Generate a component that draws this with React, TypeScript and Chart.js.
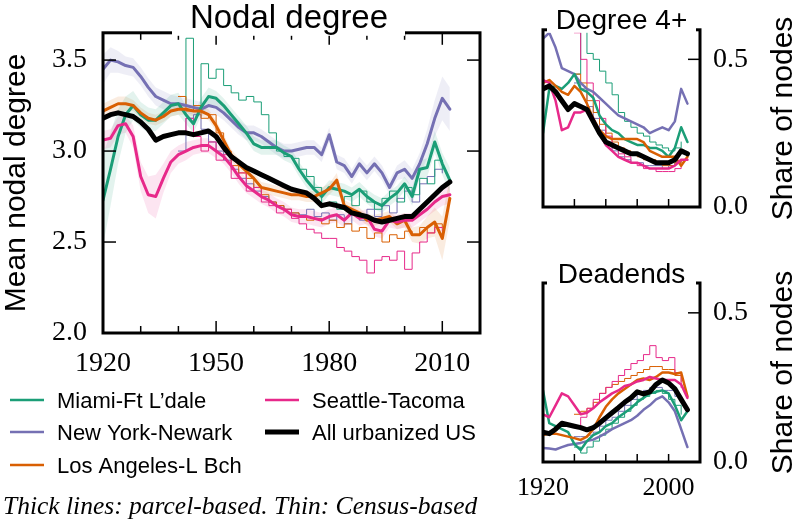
import React, { useEffect, useRef } from "react";
import { Chart, registerables } from "chart.js";
Chart.register(...registerables);

const MIAMI = "#1b9e77";
const NY = "#7570b3";
const LA = "#d95f02";
const SEATTLE = "#e7298a";
const ALLUS = "#000000";

const SERIF = "'Liberation Serif', 'Times New Roman', serif";
const SANS = "'Liberation Sans', Arial, sans-serif";

// ---------- Main panel: mean nodal degree ----------
const years = [
  1920, 1922, 1924, 1926, 1928, 1930, 1932, 1934, 1936, 1938,
  1940, 1942, 1944, 1946, 1948, 1950, 1952, 1954, 1956, 1958,
  1960, 1962, 1964, 1966, 1968, 1970, 1972, 1974, 1976, 1978,
  1980, 1982, 1984, 1986, 1988, 1990, 1992, 1994, 1996, 1998,
  2000, 2002, 2004, 2006, 2008, 2010, 2012,
];
const allUS = [
  3.18, 3.20, 3.21, 3.20, 3.19, 3.16, 3.12, 3.06, 3.08, 3.09,
  3.10, 3.10, 3.09, 3.10, 3.11, 3.08, 3.02, 2.97, 2.94, 2.91,
  2.89, 2.87, 2.85, 2.83, 2.81, 2.79, 2.78, 2.77, 2.74, 2.70,
  2.71, 2.70, 2.69, 2.66, 2.65, 2.64, 2.62, 2.61, 2.62, 2.63,
  2.64, 2.64, 2.68, 2.72, 2.76, 2.80, 2.83,
];
const nyParcel = [
  3.45, 3.50, 3.49, 3.47, 3.46, 3.41, 3.35, 3.30, 3.28, 3.26,
  3.26, 3.25, 3.24, 3.23, 3.25, 3.24, 3.21, 3.17, 3.13, 3.10,
  3.10, 3.08, 3.05, 3.02, 3.00, 3.00, 3.01, 3.02, 3.02, 2.98,
  3.09, 2.94, 2.92, 2.86, 2.93, 2.88, 2.93, 2.88, 2.80, 2.88,
  2.90, 2.85, 2.93, 3.04, 3.18, 3.29, 3.23,
];
const miamiParcel = [
  2.73, 2.90, 3.08, 3.20, 3.25, 3.20, 3.17, 3.17, 3.21, 3.25,
  3.26, 3.20, 3.15, 3.24, 3.30, 3.29, 3.25, 3.20, 3.15, 3.10,
  3.04, 3.02, 3.02, 3.02, 2.99, 2.97, 2.90, 2.84, 2.79, 2.75,
  2.80, 2.79, 2.78, 2.76, 2.79, 2.75, 2.72, 2.70, 2.74, 2.77,
  2.82, 2.75, 2.90, 2.91, 3.05, 2.93, 2.84,
];
const laParcel = [
  3.22, 3.24, 3.26, 3.26, 3.25, 3.21, 3.18, 3.17, 3.19, 3.22,
  3.23, 3.23, 3.22, 3.22, 3.20, 3.14, 3.06, 2.98, 2.93, 2.89,
  2.85, 2.80, 2.79, 2.78, 2.77, 2.76, 2.76, 2.75, 2.75, 2.77,
  2.79, 2.84, 2.70, 2.68, 2.66, 2.62, 2.62, 2.63, 2.64, 2.60,
  2.62, 2.54, 2.54, 2.58, 2.61, 2.52, 2.74,
];
const seattleParcel = [
  3.06, 3.07, 3.14, 3.15, 3.08, 2.86, 2.76, 2.75, 2.85, 2.94,
  2.98, 3.00, 3.02, 3.03, 3.03, 3.00, 2.97, 2.92, 2.86, 2.81,
  2.78, 2.75, 2.73, 2.70, 2.68, 2.65, 2.64, 2.64, 2.63, 2.62,
  2.64, 2.65, 2.62, 2.66, 2.63, 2.64, 2.57, 2.56, 2.62, 2.61,
  2.62, 2.62, 2.65, 2.68, 2.72, 2.75, 2.76,
];
// half-widths of the shaded uncertainty bands
const miamiBand = [
  0.25, 0.20, 0.15, 0.10, 0.08, 0.07, 0.07, 0.06, 0.06, 0.06,
  0.06, 0.05, 0.05, 0.05, 0.05, 0.04, 0.04, 0.04, 0.04, 0.04,
  0.04, 0.04, 0.04, 0.04, 0.04, 0.04, 0.04, 0.04, 0.04, 0.04,
  0.04, 0.04, 0.04, 0.04, 0.04, 0.04, 0.04, 0.04, 0.04, 0.04,
  0.04, 0.05, 0.05, 0.05, 0.06, 0.06, 0.07,
];
const nyBand = [
  0.08, 0.07, 0.06, 0.05, 0.05, 0.05, 0.05, 0.05, 0.05, 0.05,
  0.04, 0.04, 0.04, 0.04, 0.04, 0.04, 0.04, 0.04, 0.04, 0.04,
  0.04, 0.04, 0.04, 0.04, 0.04, 0.04, 0.04, 0.04, 0.04, 0.04,
  0.04, 0.04, 0.04, 0.04, 0.04, 0.04, 0.04, 0.04, 0.04, 0.04,
  0.05, 0.05, 0.06, 0.08, 0.10, 0.12, 0.12,
];
const laBand = [
  0.04, 0.04, 0.04, 0.04, 0.03, 0.03, 0.03, 0.03, 0.03, 0.03,
  0.03, 0.03, 0.03, 0.03, 0.03, 0.03, 0.03, 0.03, 0.03, 0.03,
  0.03, 0.03, 0.03, 0.03, 0.03, 0.03, 0.03, 0.03, 0.03, 0.03,
  0.03, 0.04, 0.03, 0.03, 0.03, 0.03, 0.03, 0.03, 0.03, 0.03,
  0.04, 0.04, 0.05, 0.06, 0.08, 0.12, 0.12,
];
const seattleBand = [
  0.05, 0.05, 0.05, 0.05, 0.06, 0.08, 0.10, 0.12, 0.08, 0.06,
  0.05, 0.05, 0.04, 0.04, 0.04, 0.04, 0.04, 0.04, 0.04, 0.04,
  0.04, 0.04, 0.04, 0.04, 0.04, 0.04, 0.04, 0.04, 0.04, 0.04,
  0.04, 0.04, 0.04, 0.04, 0.04, 0.04, 0.04, 0.04, 0.04, 0.04,
  0.04, 0.04, 0.04, 0.04, 0.05, 0.05, 0.05,
];

const censusYears = [
  1940, 1942, 1944, 1946, 1948, 1950, 1952, 1954, 1956, 1958,
  1960, 1962, 1964, 1966, 1968, 1970, 1972, 1974, 1976, 1978,
  1980, 1982, 1984, 1986, 1988, 1990, 1992, 1994, 1996, 1998,
  2000, 2002, 2004, 2006, 2008, 2010,
];
const miamiCensus = [
  3.25, 3.62, 3.22, 3.48, 3.40, 3.45, 3.36, 3.32, 3.28, 3.30,
  3.27, 3.20, 3.10, 3.00, 2.97, 2.96, 2.90, 2.86, 2.80, 2.70,
  2.72, 2.68, 2.75, 2.70, 2.78, 2.72, 2.68, 2.74, 2.78, 2.72,
  2.80, 2.76, 2.85, 2.82, 2.95, 2.90,
];
const seattleCensus = [
  3.10, 3.18, 3.08, 3.00, 3.05, 2.95, 2.98, 2.85, 2.88, 2.78,
  2.80, 2.72, 2.70, 2.66, 2.68, 2.63, 2.60, 2.57, 2.55, 2.52,
  2.52, 2.47, 2.45, 2.42, 2.40, 2.33, 2.40, 2.42, 2.40, 2.45,
  2.35, 2.44, 2.50, 2.55, 2.58, 2.56,
];
const laCensus = [
  3.30, 3.22, 3.25, 3.18, 3.20, 3.10, 3.00, 2.92, 2.88, 2.85,
  2.80, 2.76, 2.72, 2.70, 2.68, 2.66, 2.64, 2.62, 2.63, 2.60,
  2.62, 2.58, 2.60, 2.56, 2.58, 2.52, 2.55, 2.50, 2.54, 2.52,
  2.56, 2.54, 2.58, 2.55, 2.60, 2.58,
];
const nyCensus = [
  3.00, 3.18, 3.20, 3.12, 3.05, 3.00, 2.95, 2.90, 2.85, 2.82,
  2.78, 2.75, 2.72, 2.70, 2.68, 2.66, 2.65, 2.68, 2.64, 2.66,
  2.62, 2.65, 2.60, 2.66, 2.62, 2.68, 2.64, 2.70, 2.66, 2.74,
  2.78, 2.72, 2.82, 2.86, 2.90, 2.88,
];

const mainXTicks = [1920, 1930, 1940, 1950, 1960, 1970, 1980, 1990, 2000, 2010, 2020];
const mainXLabels = [1920, 1950, 1980, 2010];
const mainYTicks = [2.0, 2.5, 3.0, 3.5];

// ---------- Small panels: share of nodes ----------
const years4 = [
  1920, 1924, 1928, 1932, 1936, 1940, 1944, 1948, 1952, 1956, 1960, 1964,
  1968, 1972, 1976, 1980, 1984, 1988, 1992, 1996, 2000, 2004, 2008, 2012,
];
const census4 = [
  1940, 1944, 1948, 1952, 1956, 1960, 1964, 1968, 1972,
  1976, 1980, 1984, 1988, 1992, 1996, 2000, 2004, 2008,
];

const deg4AllUS = [0.40, 0.41, 0.39, 0.36, 0.33, 0.35, 0.34, 0.33, 0.29, 0.25, 0.22, 0.21, 0.20, 0.19, 0.18, 0.18, 0.17, 0.16, 0.15, 0.15, 0.15, 0.16, 0.19, 0.18];
const deg4NY = [0.57, 0.59, 0.54, 0.47, 0.46, 0.45, 0.42, 0.40, 0.39, 0.37, 0.35, 0.33, 0.31, 0.30, 0.29, 0.28, 0.27, 0.25, 0.26, 0.27, 0.26, 0.29, 0.40, 0.35];
const deg4Miami = [0.25, 0.40, 0.41, 0.40, 0.42, 0.45, 0.40, 0.39, 0.37, 0.31, 0.28, 0.26, 0.25, 0.23, 0.22, 0.21, 0.21, 0.20, 0.20, 0.19, 0.17, 0.20, 0.27, 0.22];
const deg4LA = [0.42, 0.43, 0.41, 0.39, 0.38, 0.41, 0.39, 0.35, 0.30, 0.26, 0.24, 0.23, 0.23, 0.23, 0.23, 0.23, 0.22, 0.19, 0.18, 0.17, 0.17, 0.17, 0.14, 0.17];
const deg4Seattle = [0.43, 0.42, 0.36, 0.26, 0.27, 0.32, 0.32, 0.33, 0.30, 0.25, 0.21, 0.19, 0.17, 0.16, 0.15, 0.15, 0.14, 0.13, 0.13, 0.13, 0.13, 0.14, 0.16, 0.16];
const deg4MiamiCensus = [0.45, 0.61, 0.52, 0.50, 0.46, 0.42, 0.38, 0.32, 0.29, 0.27, 0.25, 0.24, 0.22, 0.21, 0.20, 0.19, 0.20, 0.22];
const deg4SeattleCensus = [0.59, 0.50, 0.42, 0.36, 0.30, 0.24, 0.20, 0.18, 0.17, 0.15, 0.14, 0.13, 0.13, 0.12, 0.12, 0.12, 0.13, 0.14];
const deg4LACensus = [0.45, 0.42, 0.36, 0.32, 0.28, 0.25, 0.22, 0.20, 0.19, 0.18, 0.17, 0.16, 0.16, 0.15, 0.14, 0.14, 0.15, 0.16];
const deg4NYCensus = [0.42, 0.40, 0.34, 0.30, 0.26, 0.22, 0.19, 0.17, 0.16, 0.15, 0.15, 0.14, 0.14, 0.14, 0.13, 0.14, 0.15, 0.16];

const deadAllUS = [0.10, 0.095, 0.11, 0.13, 0.125, 0.12, 0.115, 0.108, 0.115, 0.13, 0.148, 0.165, 0.182, 0.20, 0.215, 0.235, 0.228, 0.235, 0.26, 0.275, 0.265, 0.245, 0.21, 0.175];
const deadSeattle = [0.16, 0.15, 0.19, 0.23, 0.22, 0.19, 0.16, 0.165, 0.18, 0.20, 0.215, 0.23, 0.24, 0.255, 0.26, 0.27, 0.275, 0.285, 0.28, 0.275, 0.275, 0.275, 0.26, 0.215];
const deadLA = [0.09, 0.095, 0.095, 0.09, 0.085, 0.08, 0.074, 0.085, 0.11, 0.15, 0.185, 0.21, 0.23, 0.245, 0.26, 0.275, 0.28, 0.275, 0.285, 0.30, 0.30, 0.295, 0.30, 0.22];
const deadMiami = [0.24, 0.13, 0.12, 0.11, 0.10, 0.06, 0.04, 0.07, 0.09, 0.10, 0.12, 0.13, 0.15, 0.165, 0.18, 0.20, 0.215, 0.23, 0.235, 0.24, 0.23, 0.19, 0.14, 0.17];
const deadNY = [0.047, 0.045, 0.042, 0.05, 0.057, 0.06, 0.064, 0.07, 0.075, 0.085, 0.097, 0.11, 0.12, 0.13, 0.14, 0.155, 0.175, 0.19, 0.21, 0.22, 0.20, 0.17, 0.11, 0.05];
const deadSeattleCensus = [0.12, 0.15, 0.18, 0.21, 0.23, 0.25, 0.27, 0.29, 0.31, 0.33, 0.34, 0.36, 0.39, 0.35, 0.34, 0.35, 0.30, 0.25];
const deadLACensus = [0.16, 0.17, 0.18, 0.20, 0.23, 0.25, 0.26, 0.27, 0.28, 0.29, 0.30, 0.31, 0.32, 0.32, 0.31, 0.31, 0.29, 0.27];
const deadMiamiCensus = [0.05, 0.03, 0.05, 0.07, 0.09, 0.11, 0.13, 0.15, 0.17, 0.19, 0.21, 0.22, 0.23, 0.24, 0.23, 0.21, 0.19, 0.16];
const deadNYCensus = [0.085, 0.085, 0.09, 0.10, 0.12, 0.14, 0.15, 0.17, 0.19, 0.21, 0.23, 0.24, 0.25, 0.25, 0.24, 0.24, 0.22, 0.20];

const smallXTicks = [1920, 1940, 1960, 1980, 2000, 2020];
const smallXLabels = [1920, 2000];
const smallYTicks = [0.0, 0.5];

const legendItems = [
  { label: "Miami-Ft L\u2019dale", color: MIAMI, width: 2.5, col: 0, row: 0 },
  { label: "New York-Newark", color: NY, width: 2.5, col: 0, row: 1 },
  { label: "Los Angeles-L Bch", color: LA, width: 2.5, col: 0, row: 2 },
  { label: "Seattle-Tacoma", color: SEATTLE, width: 2.5, col: 1, row: 0 },
  { label: "All urbanized US", color: ALLUS, width: 5, col: 1, row: 1 },
];

// ---------- helpers ----------
const pts = (xs: number[], ys: number[]) => xs.map((x, i) => ({ x, y: ys[i] }));

function lineDs(xs: number[], ys: number[], color: string, width: number, stepped = false): any {
  return {
    data: pts(xs, ys),
    borderColor: color,
    borderWidth: width,
    pointRadius: 0,
    fill: false,
    tension: 0,
    stepped,
    borderJoinStyle: "round",
    borderCapStyle: "round",
  };
}

function hexA(hex: string, a: number) {
  const r = parseInt(hex.slice(1, 3), 16);
  const g = parseInt(hex.slice(3, 5), 16);
  const b = parseInt(hex.slice(5, 7), 16);
  return `rgba(${r},${g},${b},${a})`;
}

function bandDs(xs: number[], ys: number[], half: number[], color: string): any[] {
  const upper = xs.map((x, i) => ({ x, y: ys[i] + half[i] }));
  const lower = xs.map((x, i) => ({ x, y: ys[i] - half[i] }));
  return [
    { data: upper, borderWidth: 0, pointRadius: 0, fill: false, borderColor: "transparent" },
    { data: lower, borderWidth: 0, pointRadius: 0, fill: "-1", borderColor: "transparent", backgroundColor: hexA(color, 0.12) },
  ];
}

function seg(ctx: CanvasRenderingContext2D, x1: number, y1: number, x2: number, y2: number) {
  ctx.beginPath();
  ctx.moveTo(x1, y1);
  ctx.lineTo(x2, y2);
  ctx.stroke();
}

// ---------- main chart config ----------
const mainDecor = {
  id: "mainDecor",
  afterDraw(chart: any) {
    const { ctx, chartArea: a, scales } = chart;
    const xs = scales.x;
    const ys = scales.y;
    ctx.save();
    ctx.strokeStyle = "#000";
    ctx.lineWidth = 1.5;
    for (const t of xs.ticks) {
      const px = xs.getPixelForValue(t.value);
      if (px <= a.left + 2 || px >= a.right - 2) continue;
      const len = mainXLabels.includes(t.value) ? 12 : 7;
      seg(ctx, px, a.bottom, px, a.bottom - len);
      seg(ctx, px, a.top, px, a.top + len);
    }
    for (const t of ys.ticks) {
      const py = ys.getPixelForValue(t.value);
      if (py >= a.bottom - 2 || py <= a.top + 2) continue;
      seg(ctx, a.left, py, a.left + 13, py);
      seg(ctx, a.right, py, a.right - 13, py);
    }
    ctx.lineWidth = 3;
    ctx.strokeRect(a.left, a.top, a.right - a.left, a.bottom - a.top);

    // title breaking the top spine
    ctx.fillStyle = "#fff";
    ctx.fillRect(172, 0, 233, a.top + 3);
    ctx.fillStyle = "#000";
    ctx.font = `33px ${SANS}`;
    ctx.textAlign = "center";
    ctx.textBaseline = "alphabetic";
    ctx.fillText("Nodal degree", 289, 28);

    // y axis title
    ctx.save();
    ctx.translate(25, (a.top + a.bottom) / 2);
    ctx.rotate(-Math.PI / 2);
    ctx.font = `30px ${SANS}`;
    ctx.textAlign = "center";
    ctx.fillText("Mean nodal degree", 0, 0);
    ctx.restore();

    // legend
    const colLineX = [10, 265];
    const rowY = [400, 432, 465];
    ctx.font = `22px ${SANS}`;
    ctx.textAlign = "left";
    ctx.textBaseline = "alphabetic";
    for (const it of legendItems) {
      const x0 = colLineX[it.col];
      const y = rowY[it.row];
      ctx.strokeStyle = it.color;
      ctx.lineWidth = it.width;
      ctx.lineCap = "butt";
      seg(ctx, x0, y, x0 + 34, y);
      ctx.fillStyle = "#000";
      ctx.fillText(it.label, x0 + 47, y + 8);
    }

    // caption
    ctx.font = `italic 25.5px ${SERIF}`;
    ctx.fillText("Thick lines: parcel-based. Thin: Census-based", 3, 514);
    ctx.restore();
  },
};

function mainConfig(): any {
  const datasets = [
    lineDs(years, allUS, ALLUS, 5),
    lineDs(years, seattleParcel, SEATTLE, 3),
    lineDs(years, laParcel, LA, 3),
    lineDs(years, miamiParcel, MIAMI, 3),
    lineDs(years, nyParcel, NY, 3),
    lineDs(censusYears, seattleCensus, SEATTLE, 1, true),
    lineDs(censusYears, laCensus, LA, 1, true),
    lineDs(censusYears, miamiCensus, MIAMI, 1, true),
    lineDs(censusYears, nyCensus, NY, 1, true),
    ...bandDs(years, miamiParcel, miamiBand, MIAMI),
    ...bandDs(years, nyParcel, nyBand, NY),
    ...bandDs(years, laParcel, laBand, LA),
    ...bandDs(years, seattleParcel, seattleBand, SEATTLE),
  ];
  return {
    type: "line",
    data: { datasets },
    options: {
      animation: false,
      responsive: false,
      devicePixelRatio: 1,
      layout: { autoPadding: false, padding: { left: 0, top: 25, right: 20, bottom: 0 } },
      plugins: { legend: { display: false }, tooltip: { enabled: false }, title: { display: false } },
      scales: {
        x: {
          type: "linear",
          min: 1920,
          max: 2020,
          afterBuildTicks: (s: any) => {
            s.ticks = mainXTicks.map((v) => ({ value: v }));
          },
          afterFit: (s: any) => {
            s.height = 187;
          },
          grid: { display: false, drawTicks: false },
          border: { display: false },
          ticks: {
            autoSkip: false,
            maxRotation: 0,
            padding: 14,
            color: "#000",
            font: { family: SERIF, size: 28 },
            callback: (v: any) => (mainXLabels.includes(v) ? String(v) : ""),
          },
        },
        y: {
          type: "linear",
          min: 2.0,
          max: 3.65,
          afterBuildTicks: (s: any) => {
            s.ticks = mainYTicks.map((v) => ({ value: v }));
          },
          afterFit: (s: any) => {
            s.width = 103;
          },
          grid: { display: false, drawTicks: false },
          border: { display: false },
          ticks: {
            padding: 16,
            color: "#000",
            font: { family: SERIF, size: 28 },
            callback: (v: any) => Number(v).toFixed(1),
          },
        },
      },
    },
    plugins: [mainDecor],
  };
}

// ---------- small chart config ----------
function smallDecor(title: string, titleDy: number) {
  return {
    id: "smallDecor",
    afterDraw(chart: any) {
      const { ctx, chartArea: a, scales } = chart;
      const xs = scales.x;
      const ys = scales.y;
      ctx.save();
      ctx.strokeStyle = "#000";
      ctx.lineWidth = 1.5;
      for (const t of xs.ticks) {
        const px = xs.getPixelForValue(t.value);
        if (px <= a.left + 2 || px >= a.right - 2) continue;
        seg(ctx, px, a.bottom, px, a.bottom - 8);
      }
      for (const t of ys.ticks) {
        const py = ys.getPixelForValue(t.value);
        if (py >= a.bottom - 2 || py <= a.top + 2) continue;
        seg(ctx, a.right, py, a.right - 12, py);
      }
      ctx.lineWidth = 3;
      ctx.strokeRect(a.left, a.top, a.right - a.left, a.bottom - a.top);

      ctx.fillStyle = "#fff";
      ctx.fillRect(a.left + 4, 0, a.right - a.left - 8, a.top + 3);
      ctx.fillStyle = "#000";
      ctx.font = `28px ${SANS}`;
      ctx.textAlign = "center";
      ctx.textBaseline = "alphabetic";
      ctx.fillText(title, (a.left + a.right) / 2, a.top + titleDy);

      ctx.save();
      ctx.translate(292, (a.top + a.bottom) / 2);
      ctx.rotate(-Math.PI / 2);
      ctx.font = `30px ${SANS}`;
      ctx.textAlign = "center";
      ctx.fillText("Share of nodes", 0, 0);
      ctx.restore();
      ctx.restore();
    },
  };
}

function smallConfig(
  title: string,
  titleDy: number,
  series: { all: number[]; seattle: number[]; la: number[]; miami: number[]; ny: number[] },
  census: { seattle: number[]; la: number[]; miami: number[]; ny: number[] },
  top: number,
  xHeight: number,
  showX: boolean
): any {
  const datasets = [
    lineDs(years4, series.all, ALLUS, 5),
    lineDs(years4, series.seattle, SEATTLE, 2.5),
    lineDs(years4, series.la, LA, 2.5),
    lineDs(years4, series.miami, MIAMI, 2.5),
    lineDs(years4, series.ny, NY, 2.5),
    lineDs(census4, census.seattle, SEATTLE, 1, true),
    lineDs(census4, census.la, LA, 1, true),
    lineDs(census4, census.miami, MIAMI, 1, true),
    lineDs(census4, census.ny, NY, 1, true),
  ];
  return {
    type: "line",
    data: { datasets },
    options: {
      animation: false,
      responsive: false,
      devicePixelRatio: 1,
      layout: { autoPadding: false, padding: { left: 43, top, right: 0, bottom: 0 } },
      plugins: { legend: { display: false }, tooltip: { enabled: false }, title: { display: false } },
      scales: {
        x: {
          type: "linear",
          min: 1920,
          max: 2020,
          afterBuildTicks: (s: any) => {
            s.ticks = smallXTicks.map((v) => ({ value: v }));
          },
          afterFit: (s: any) => {
            s.height = xHeight;
          },
          grid: { display: false, drawTicks: false },
          border: { display: false },
          ticks: {
            display: showX,
            autoSkip: false,
            maxRotation: 0,
            padding: 11,
            color: "#000",
            font: { family: SERIF, size: 26 },
            callback: (v: any) => (smallXLabels.includes(v) ? String(v) : ""),
          },
        },
        y: {
          type: "linear",
          position: "right",
          min: 0,
          max: 0.6,
          afterBuildTicks: (s: any) => {
            s.ticks = smallYTicks.map((v) => ({ value: v }));
          },
          afterFit: (s: any) => {
            s.width = 96;
          },
          grid: { display: false, drawTicks: false },
          border: { display: false },
          ticks: {
            padding: 13,
            color: "#000",
            font: { family: SERIF, size: 28 },
            callback: (v: any) => Number(v).toFixed(1),
          },
        },
      },
    },
    plugins: [smallDecor(title, titleDy)],
  };
}

function ChartCanvas(props: { make: () => any; left: number; top: number; w: number; h: number }) {
  const ref = useRef<HTMLCanvasElement>(null);
  useEffect(() => {
    const chart = new Chart(ref.current as HTMLCanvasElement, props.make());
    return () => chart.destroy();
  }, []);
  return (
    <canvas
      ref={ref}
      width={props.w}
      height={props.h}
      style={{ position: "absolute", left: props.left, top: props.top, width: props.w, height: props.h, display: "block" }}
    />
  );
}

export default function App() {
  return (
    <div style={{ position: "absolute", left: 0, top: 0, width: 796, height: 520, background: "#fff", overflow: "hidden" }}>
      <ChartCanvas make={mainConfig} left={0} top={0} w={500} h={520} />
      <ChartCanvas
        make={() =>
          smallConfig(
            "Degree 4+",
            -1,
            { all: deg4AllUS, seattle: deg4Seattle, la: deg4LA, miami: deg4Miami, ny: deg4NY },
            { seattle: deg4SeattleCensus, la: deg4LACensus, miami: deg4MiamiCensus, ny: deg4NYCensus },
            26,
            43,
            false
          )
        }
        left={500}
        top={0}
        w={296}
        h={250}
      />
      <ChartCanvas
        make={() =>
          smallConfig(
            "Deadends",
            0,
            { all: deadAllUS, seattle: deadSeattle, la: deadLA, miami: deadMiami, ny: deadNY },
            { seattle: deadSeattleCensus, la: deadLACensus, miami: deadMiamiCensus, ny: deadNYCensus },
            33,
            58,
            true
          )
        }
        left={500}
        top={250}
        w={296}
        h={270}
      />
    </div>
  );
}
